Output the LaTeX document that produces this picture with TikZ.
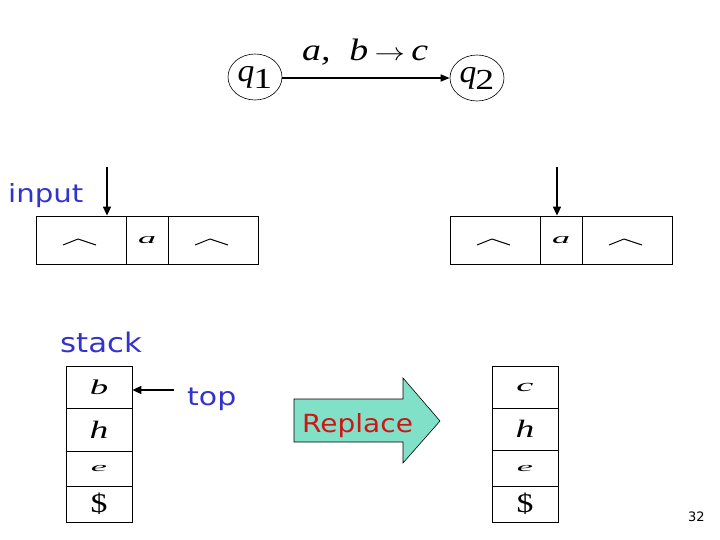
\documentclass[tikz,border=0pt]{standalone}
\usepackage{fontspec}
\setmainfont{Liberation Serif}
\newfontfamily\labelfont{DejaVu Sans}
\usetikzlibrary{arrows.meta,shapes.geometric,calc}
\definecolor{txtblue}{RGB}{51,51,204}
\definecolor{txtred}{RGB}{210,20,20}
\definecolor{teal2}{RGB}{128,224,200}
\tikzset{
  state/.style={draw, ellipse, line width=0.6pt, minimum width=54pt, minimum height=46pt, inner sep=0pt},
  cell/.style={draw, line width=0.8pt, inner sep=0pt, minimum height=48pt},
  scell/.style={draw, line width=0.8pt, inner sep=0pt, minimum width=66pt},
  lab/.style={font=\labelfont\fontsize{25}{25}\selectfont, text=txtblue, inner sep=0pt},
  ptr/.style={line width=1.6pt, -{Triangle[length=9pt,width=8pt]}},
  caret/.style={line width=1.0pt, line join=round}
}
\newcommand{\mycaret}[1]{\draw[caret] ($(#1)+(-18,5)$) -- ($(#1)+(-3,-1)$) -- ($(#1)+(15,5)$);}
\newcommand{\wide}[3]{\scalebox{#1}[1]{\fontsize{#2}{#2}\selectfont #3}}
\newcommand{\qsub}[1]{\wide{1.05}{32}{\itshape q}\kern-1pt\raisebox{-7pt}{\wide{1.3}{29}{#1}}}
\begin{document}
\begin{tikzpicture}[x=1pt,y=-1pt]
\useasboundingbox (0,0) rectangle (720,540);
% states
\node[state] (q1) at (255,77) {\qsub{1}};
\node[state] (q2) at (477,78) {\qsub{2}};
\draw[line width=1.4pt, -{Triangle[length=9pt,width=7pt]}] (q1.east |- 0,78) -- (q2.west |- 0,78);
\node[anchor=base west, inner sep=0pt] (lbl) at (302,61) {\wide{1.22}{31}{\itshape a, \ b\,$\rightarrow$\,c}};
% left tape
\node[cell, minimum width=90pt] (a1) at (81,240) {};
\node[cell, minimum width=42pt] (a2) at (147,240) {\wide{2.4}{15}{\itshape a}};
\node[cell, minimum width=90pt] (a3) at (213,240) {};
\mycaret{a1.center}
\mycaret{a3.center}
\coordinate (in1) at (107,167);
\draw[ptr] (in1) -- (in1 |- a1.north);
\node[lab, anchor=base west] (input) at (8,203) {\scalebox{1.17}[1]{input}};
% right tape
\node[cell, minimum width=90pt] (b1) at (495,240) {};
\node[cell, minimum width=42pt] (b2) at (561,240) {\wide{2.4}{15}{\itshape a}};
\node[cell, minimum width=90pt] (b3) at (627,240) {};
\mycaret{b1.center}
\mycaret{b3.center}
\coordinate (in2) at (557,167);
\draw[ptr] (in2) -- (in2 |- b2.north);
% left stack
\node[lab, anchor=base west, font=\labelfont\fontsize{27}{27}\selectfont] (stack) at (60,352) {\scalebox{1.14}[1]{stack}};
\node[scell, minimum height=42pt] (s1) at (99,387) {\wide{1.75}{21}{\itshape b}};
\node[scell, minimum height=43pt] (s2) at (99,429.5) {\wide{1.5}{25}{\itshape h}};
\node[scell, minimum height=35pt] (s3) at (99,468.5) {\wide{2.8}{13}{\itshape e}};
\node[scell, minimum height=36pt] (s4) at (99,504) {\wide{1.25}{27}{\$}};
\node[lab, anchor=base west] (top) at (187,405) {\scalebox{1.2}[1]{top}};
\coordinate (tp) at (174,390);
\draw[ptr] (tp) -- (tp -| s1.east);
% replace arrow
\draw[fill=teal2, line width=0.6pt] (294,399) -- (403,399) -- (403,378) -- (440,421) -- (403,463) -- (403,442) -- (294,442) -- cycle;
\node[lab, text=txtred, anchor=base west] (rep) at (302,432) {\scalebox{1.12}[1]{Replace}};
% right stack
\node[scell, minimum height=42pt] (r1) at (525,387) {\wide{2.2}{17.5}{\itshape c}};
\node[scell, minimum height=42pt] (r2) at (525,429) {\wide{1.5}{25}{\itshape h}};
\node[scell, minimum height=36pt] (r3) at (525,468) {\wide{2.8}{13}{\itshape e}};
\node[scell, minimum height=36pt] (r4) at (525,504) {\wide{1.25}{27}{\$}};
% page number
\node[anchor=base west, inner sep=0pt, font=\labelfont\fontsize{13}{13}\selectfont] (pg) at (688,521) {32};
\end{tikzpicture}
\end{document}
